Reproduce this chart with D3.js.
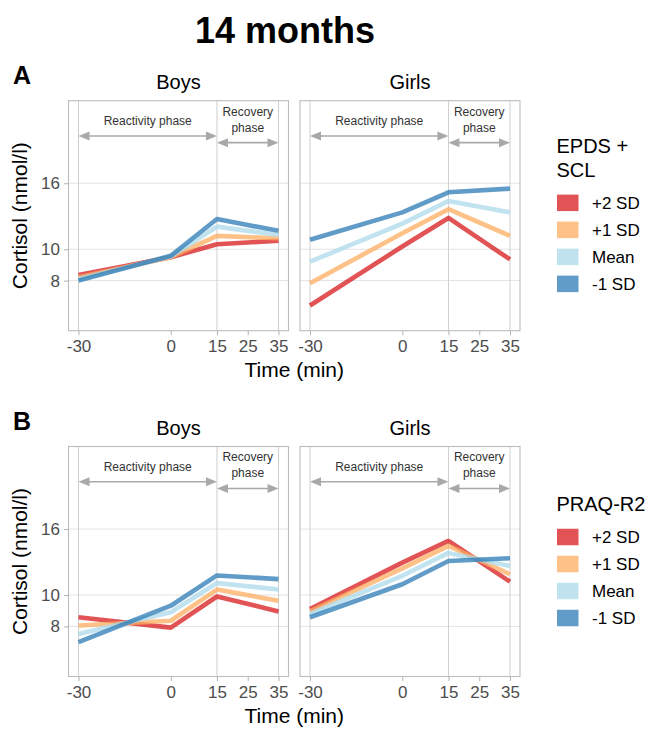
<!DOCTYPE html>
<html>
<head>
<meta charset="utf-8">
<script src="https://cdn.jsdelivr.net/npm/d3@7"></script>
<style>
  body { margin: 0; background: #fff; }
  svg { font-family: "Liberation Sans", Arial, Helvetica, sans-serif; }
</style>
</head>
<body>
<div id="chart-container"></div>
<script>
const width = 653;
const height = 729;

// data
const times = [-30, 0, 15, 35];
const xTicks = [-30, 0, 15, 25, 35];
const yTicks = [8, 10, 16];
const phaseLines = [-30, 15, 35];
const levels = ["+2 SD", "+1 SD", "Mean", "-1 SD"];
const colors = ["#d7191c", "#fdae61", "#abd9e9", "#2c7bb6"];
const sexes = ["Boys", "Girls"];

// cortisol per level (+2 SD, +1 SD, Mean, -1 SD) at each time
const epdsBoys = [[8.33, 9.45, 10.36, 10.63], [8.19, 9.45, 11.0, 10.81], [8.09, 9.49, 11.75, 11.07], [8.0, 9.55, 12.4, 11.4]];
const epdsGirls = [[6.7, 10.2, 12.5, 9.3], [7.85, 11.2, 13.3, 11.0], [9.15, 12.0, 14.1, 13.0], [10.7, 13.0, 15.0, 15.4]];
const praqBoys = [[8.54, 7.93, 9.9, 8.9], [8.05, 8.33, 10.4, 9.6], [7.58, 8.85, 10.9, 10.4], [7.15, 9.27, 11.5, 11.2]];
const praqGirls = [[9.05, 12.6, 14.7, 11.0], [8.9, 12.1, 14.2, 11.6], [8.74, 11.47, 13.5, 12.3], [8.54, 10.8, 12.75, 13.0]];

const phaseLabels = [["Reactivity phase"], ["Recovery", "phase"]];
const phaseFrom = [-30, 15];
const phaseTo = [15, 35];
const phaseY = [22.4, 21.36];

const rows = [
  { tag: "A", top: 100.7, legend: ["EPDS +", "SCL"], data: [epdsBoys, epdsGirls] },
  { tag: "B", top: 446.5, legend: ["PRAQ-R2"], data: [praqBoys, praqGirls] }
];

const panelLeft = [68.5, 300];
const panelW = 220;
const panelH = 230;
const tickColor = "#b3b3b3";
const textGray = "#4d4d4d";

const svg = d3.select("#chart-container").append("svg")
  .attr("width", width)
  .attr("height", height);

svg.append("text")
  .attr("x", 285)
  .attr("y", 42.5)
  .attr("text-anchor", "middle")
  .attr("font-size", 36)
  .attr("font-weight", "bold")
  .text("14 months");

let drawArrow = (g, x1, x2, y) => {
  const head = 11, hw = 4.5;
  g.append("line")
    .attr("x1", x1 + head - 1).attr("x2", x2 - head + 1)
    .attr("y1", y).attr("y2", y)
    .attr("stroke", "#a9a9a9").attr("stroke-width", 1.6);
  g.append("path")
    .attr("d", `M${x1},${y}L${x1 + head},${y - hw}L${x1 + head},${y + hw}Z`)
    .attr("fill", "#a9a9a9");
  g.append("path")
    .attr("d", `M${x2},${y}L${x2 - head},${y - hw}L${x2 - head},${y + hw}Z`)
    .attr("fill", "#a9a9a9");
}

rows.forEach(row => {
  const top = row.top;
  const bottom = top + panelH;

  const y = d3.scaleLog()
    .domain([5.6, 28.8])
    .range([bottom, top]);

  svg.append("text")
    .attr("x", 13)
    .attr("y", top - 16.5)
    .attr("font-size", 25)
    .attr("font-weight", "bold")
    .text(row.tag);

  // y axis title
  svg.append("text")
    .attr("transform", `translate(27,${top + panelH / 2}) rotate(-90)`)
    .attr("text-anchor", "middle")
    .attr("font-size", 21)
    .text("Cortisol (nmol/l)");

  svg.append("text")
    .attr("x", (panelLeft[0] + panelLeft[1] + panelW) / 2)
    .attr("y", bottom + 46.5)
    .attr("text-anchor", "middle")
    .attr("font-size", 21)
    .text("Time (min)");

  sexes.forEach((sex, si) => {
    const left = panelLeft[si];
    const x = d3.scaleLinear()
      .domain([-33.25, 38.25])
      .range([left, left + panelW]);

    const g = svg.append("g");

    g.append("text")
      .attr("x", left + panelW / 2)
      .attr("y", top - 11.5)
      .attr("text-anchor", "middle")
      .attr("font-size", 20)
      .text(sex);

    // grid
    g.selectAll(".hgrid").data(yTicks).enter().append("line")
      .attr("x1", left).attr("x2", left + panelW)
      .attr("y1", d => y(d)).attr("y2", d => y(d))
      .attr("stroke", "#e3e3e3").attr("stroke-width", 1);

    g.selectAll(".vline").data(phaseLines).enter().append("line")
      .attr("x1", d => x(d)).attr("x2", d => x(d))
      .attr("y1", top).attr("y2", bottom)
      .attr("stroke", "#cfcfcf").attr("stroke-width", 1);

    // phase arrows
    phaseLabels.forEach((lab, pi) => {
      const ay = y(phaseY[pi]);
      drawArrow(g, x(phaseFrom[pi]), x(phaseTo[pi]), ay);
      const cx = x((phaseFrom[pi] + phaseTo[pi]) / 2);
      lab.forEach((t, li) => {
        g.append("text")
          .attr("x", cx)
          .attr("y", ay - 11 - (lab.length - 1 - li) * 16)
          .attr("text-anchor", "middle")
          .attr("font-size", 12)
          .attr("fill", "#333")
          .text(t);
      });
    });

    // lines
    const line = d3.line()
      .x((d, i) => x(times[i]))
      .y(d => y(d));

    row.data[si].forEach((vals, li) => {
      g.append("path")
        .datum(vals)
        .attr("d", line)
        .attr("fill", "none")
        .attr("stroke", colors[li])
        .attr("stroke-opacity", 0.75)
        .attr("stroke-width", 4.6)
        .attr("stroke-linejoin", "round");
    });

    // border
    g.append("rect")
      .attr("x", left).attr("y", top)
      .attr("width", panelW).attr("height", panelH)
      .attr("fill", "none")
      .attr("stroke", "#bdbdbd").attr("stroke-width", 1.1);

    // x axis
    const xAxis = g.append("g")
      .attr("transform", `translate(0,${bottom})`)
      .call(d3.axisBottom(x).tickValues(xTicks).tickSize(4.5).tickPadding(5).tickFormat(d => String(d)));
    xAxis.select(".domain").remove();
    xAxis.selectAll("line").attr("stroke", tickColor);
    xAxis.selectAll("text")
      .attr("font-size", 17)
      .attr("font-family", "Liberation Sans, Arial, sans-serif")
      .attr("fill", textGray);

    if (si === 0) {
      const yAxis = g.append("g")
        .attr("transform", `translate(${left},0)`)
        .call(d3.axisLeft(y).tickValues(yTicks).tickSize(4.5).tickPadding(4).tickFormat(d => String(d)));
      yAxis.select(".domain").remove();
      yAxis.selectAll("line").attr("stroke", tickColor);
      yAxis.selectAll("text")
        .attr("font-size", 17)
        .attr("font-family", "Liberation Sans, Arial, sans-serif")
        .attr("fill", textGray);
    }
  });

  // legend
  const nTitle = row.legend.length;
  const b = top + panelH / 2 - 50.75 - (nTitle - 1) * 11.65;
  const lg = svg.append("g");
  row.legend.forEach((t, i) => {
    lg.append("text")
      .attr("x", 556.5)
      .attr("y", b + i * 23.3)
      .attr("font-size", 20)
      .text(t);
  });
  const swTop = b + (nTitle - 1) * 23.3 + 18;
  lg.selectAll(".key").data(levels).enter().append("rect")
    .attr("x", 557)
    .attr("y", (d, i) => swTop + i * 27)
    .attr("width", 21.5)
    .attr("height", 16.5)
    .attr("fill", (d, i) => colors[i])
    .attr("fill-opacity", 0.75);
  lg.selectAll(".klab").data(levels).enter().append("text")
    .attr("x", 592)
    .attr("y", (d, i) => swTop + i * 27 + 14.3)
    .attr("font-size", 17)
    .text(d => d);
});
</script>
</body>
</html>
